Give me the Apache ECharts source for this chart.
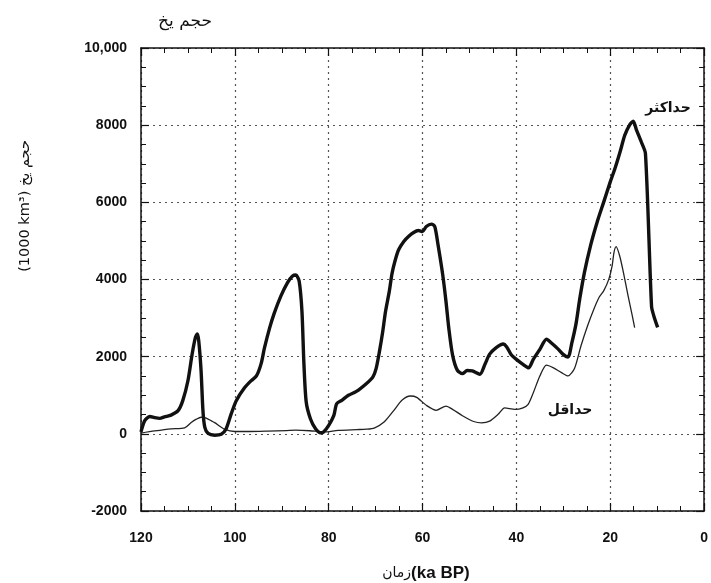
<!DOCTYPE html>
<html>
<head>
<meta charset="utf-8">
<script src="https://cdn.jsdelivr.net/npm/echarts@6/dist/echarts.min.js"></script>
<style>
html,body{margin:0;padding:0;background:#fff;}
#chart{width:711px;height:583px;}
</style>
</head>
<body>
<div id="chart"></div>
<script>
// Ages (ka BP) and ice volume (1000 km^3)
const maxAge = [120,119.2,118.1,117.1,116,115,113.6,112.1,111.1,110,109.1,108.4,108,107.7,107.2,106.8,106.4,105.7,104.3,102.9,101.9,100.8,99.7,97.9,96.5,95.4,94.4,93.7,92.6,91.6,90.2,88.8,87.7,87,86.3,85.7,85.3,84.8,83.9,82.8,81.7,81.1,80,78.9,78.3,77.2,75.8,74.1,72,70.6,69.9,69.2,68.5,67.9,67.1,66.5,65.8,65.1,64,63,61.9,60.9,60,59.2,58.1,57.4,56.7,55.7,55,54.4,53.6,52.6,51.5,50.5,49.4,47.8,46.7,45.7,44.3,42.8,42.1,41.1,40,38.6,37.4,36.4,35,33.6,32.6,31.1,30.1,29,28.2,27.3,26.5,25.5,24.2,22.8,21.4,20,19,17.9,16.9,15.8,15.1,14.4,13.4,12.5,11.2,10.7,9.9];
const maxVol = [50,340,450,420,400,440,485,600,860,1375,2070,2500,2590,2415,1640,600,165,10,-35,-10,120,510,860,1200,1380,1500,1820,2220,2740,3130,3570,3915,4090,4115,3960,3175,1870,830,390,130,25,45,220,480,780,870,1000,1100,1300,1470,1690,2125,2640,3165,3685,4160,4510,4770,4985,5115,5220,5270,5245,5375,5435,5375,4900,4120,3425,2730,2040,1650,1560,1640,1630,1545,1805,2065,2235,2330,2260,2050,1930,1800,1710,1930,2190,2450,2360,2195,2065,1990,2350,2850,3500,4185,4880,5485,6005,6530,6875,7310,7740,8020,8100,7870,7570,7265,3300,3050,2760];

const minAge = [120,117.1,113.6,110.7,109.3,108.2,107.2,106.1,105,104.3,102.2,100,97,93,89,87,84,81,78,74,72,70.3,68.2,66.1,64.4,62.6,61.25,59.2,57.1,55,53.6,51.5,49.1,47.4,45.7,43.9,42.5,40.3,38.6,37.5,36.4,35,33.6,32.2,30.4,29,27.6,26.25,24.85,23.5,22.4,21.4,20.3,19.6,19.2,18.75,18,17.2,16.2,15.3,14.8];
const minVol = [20,75,130,155,295,380,430,410,335,290,120,60,60,70,85,95,80,50,90,110,120,150,305,610,870,980,945,740,610,720,635,470,320,285,330,505,675,635,675,765,1065,1500,1780,1715,1585,1500,1700,2275,2795,3230,3535,3705,4010,4355,4705,4850,4615,4185,3575,3055,2750];

const xTicks = [120,100,80,60,40,20,0];
const yTicks = [-2000,0,2000,4000,6000,8000,10000];

const maxData = maxAge.map((a,i)=>[a,maxVol[i]]);
const minData = minAge.map((a,i)=>[a,minVol[i]]);

const numFont = '"Liberation Sans", Arial, sans-serif';
const arFont = '"DejaVu Sans", "Liberation Sans", sans-serif';

const gridLine = {show:true, lineStyle:{color:'#555', width:1.2, type:[2,4]}};

const chart = echarts.init(document.getElementById('chart'), null, {renderer:'canvas'});
chart.setOption({
  animation:false,
  backgroundColor:'#fff',
  grid:{left:141, right:4, top:48, bottom:72, containLabel:false},
  xAxis:[{
    type:'value', position:'bottom', inverse:true,
    min:0, max:120, interval:20,
    axisLine:{show:true, onZero:false, lineStyle:{color:'#111', width:1.5}},
    axisTick:{show:true, inside:true, length:8, lineStyle:{color:'#111', width:1.2}},
    minorTick:{show:true, splitNumber:4, length:5, lineStyle:{color:'#111', width:1}},
    splitLine:gridLine,
    axisLabel:{color:'#111', fontSize:14, fontWeight:'bold', fontFamily:numFont, margin:20,
      formatter:v=> xTicks.indexOf(v)>=0 ? String(v) : ''}
  },{
    type:'value', position:'top', inverse:true,
    min:0, max:120, interval:20,
    axisLine:{show:true, onZero:false, lineStyle:{color:'#111', width:1.5}},
    axisTick:{show:true, inside:true, length:8, lineStyle:{color:'#111', width:1.2}},
    minorTick:{show:true, splitNumber:4, length:5, lineStyle:{color:'#111', width:1}},
    splitLine:{show:false},
    axisLabel:{show:false}
  }],
  yAxis:[{
    type:'value', position:'left',
    min:-2000, max:10000, interval:2000,
    axisLine:{show:true, onZero:false, lineStyle:{color:'#111', width:1.5}},
    axisTick:{show:true, inside:true, length:8, lineStyle:{color:'#111', width:1.2}},
    minorTick:{show:true, splitNumber:4, length:5, lineStyle:{color:'#111', width:1}},
    splitLine:gridLine,
    axisLabel:{color:'#111', fontSize:14, fontWeight:'bold', fontFamily:numFont, margin:14,
      formatter:v=> yTicks.indexOf(v)<0 ? '' : (v===10000 ? '10,000' : String(v))}
  },{
    type:'value', position:'right',
    min:-2000, max:10000, interval:2000,
    axisLine:{show:true, onZero:false, lineStyle:{color:'#111', width:1.5}},
    axisTick:{show:true, inside:true, length:8, lineStyle:{color:'#111', width:1.2}},
    minorTick:{show:true, splitNumber:4, length:5, lineStyle:{color:'#111', width:1}},
    splitLine:{show:false},
    axisLabel:{show:false}
  }],
  series:[{
    name:'حداکثر', type:'line', data:maxData, showSymbol:false, smooth:0.25,
    lineStyle:{color:'#111', width:3.4}, z:5
  },{
    name:'حداقل', type:'line', data:minData, showSymbol:false, smooth:0.25,
    lineStyle:{color:'#222', width:1.3}, z:4
  }],
  graphic:[
    {type:'text', x:185, y:22, style:{text:'حجم یخ', font:'17px '+arFont, fill:'#111', align:'center', verticalAlign:'middle'}},
    {type:'text', x:25, y:206, rotation:Math.PI/2,
      style:{text:'(1000 km³) حجم یخ', font:'14.5px '+arFont, fill:'#111', align:'center', verticalAlign:'middle'}},
    {type:'text', x:426, y:573,
      style:{rich:{a:{font:'14px '+arFont, fill:'#111'}, b:{font:'bold 17px '+numFont, fill:'#111'}},
        text:'{a|زمان}{b|(ka BP)}', align:'center', verticalAlign:'middle'}},
    {type:'text', x:668, y:108, style:{text:'حداکثر', font:'bold 14px '+arFont, fill:'#111', align:'center', verticalAlign:'middle'}},
    {type:'text', x:570, y:410, style:{text:'حداقل', font:'bold 14px '+arFont, fill:'#111', align:'center', verticalAlign:'middle'}}
  ]
});
</script>
</body>
</html>
